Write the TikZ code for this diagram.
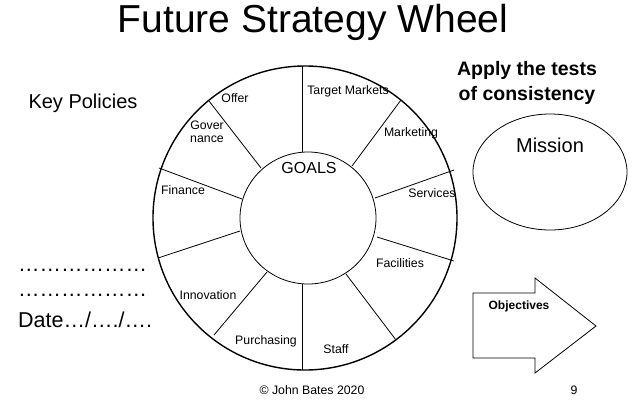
\documentclass[tikz,border=0pt]{standalone}
\usepackage{fontspec}
\setmainfont{Liberation Sans}
\begin{document}
\begin{tikzpicture}[x=1pt,y=-1pt,
  lab/.style={font=\fontsize{12.3}{13}\selectfont,align=center,inner sep=0},
  big/.style={font=\fontsize{20}{22}\selectfont,inner sep=0},
  ln/.style={line width=0.8pt}]
\useasboundingbox (0,0) rectangle (634,400);
\node[inner sep=0,font=\fontsize{39}{42}\selectfont] (title) at (313,22) {Future Strategy Wheel};
% wheel
\draw[line width=1.4pt] (305,218) circle [radius=152];
\draw[ln] (308,218) ellipse [x radius=68, y radius=66];
\draw[ln] (302,66) -- (302,152);
\draw[ln] (302,284) -- (302,370);
\draw[ln] (209,101) -- (261,168);
\draw[ln] (401,100) -- (352,166);
\draw[ln] (159,168) -- (242,199);
\draw[ln] (454,170) -- (375,198);
\draw[ln] (158,258) -- (240,231);
\draw[ln] (454,261) -- (377,237);
\draw[ln] (214,335) -- (267,272);
\draw[ln] (396,340) -- (346,274);
\node[lab] (offer) at (235,98) {Offer};
\node[lab] (tm) at (348,91) {Target Markets};
\node[lab] (gov) at (207,132) {Gover\\nance};
\node[lab] (mkt) at (411,133) {Marketing};
\node[inner sep=0,font=\fontsize{16}{17}\selectfont] (goals) at (309,168) {GOALS};
\node[lab] (fin) at (183,190) {Finance};
\node[lab] (serv) at (432,193) {Services};
\node[lab] (fac) at (400,263) {Facilities};
\node[lab] (inn) at (208,295) {Innovation};
\node[lab] (pur) at (266,341) {Purchasing};
\node[lab] (staff) at (336,349) {Staff};
% left
\node[big] (kp) at (83,103) {Key Policies};
\node[big,anchor=west,font=\fontsize{21.5}{22}\selectfont] (d1) at (18,270) {………………};
\node[big,anchor=west,font=\fontsize{21.5}{22}\selectfont] (d2) at (18,295) {………………};
\node[big,anchor=west,font=\fontsize{21.5}{22}\selectfont] (d3) at (18,320) {Date…/…./….};
% right
\node[big,font=\bfseries\fontsize{19.5}{25}\selectfont,align=center] (apply) at (527,83) {Apply the tests\\of consistency};
\draw[ln] (550,172) ellipse [x radius=77, y radius=58];
\node[big] (mission) at (550,145) {Mission};
\draw[ln] (473,293) -- (535,293) -- (535,278) -- (596,326) -- (535,373) -- (535,358) -- (473,358) -- cycle;
\node[lab,font=\bfseries\fontsize{12}{13}\selectfont] (obj) at (519,306) {Objectives};
\node[lab] (copy) at (312,390) {© John Bates 2020};
\node[lab] (page) at (574,390) {9};
\end{tikzpicture}
\end{document}
